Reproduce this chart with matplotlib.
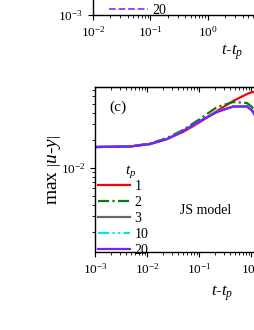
import numpy as np
import matplotlib
matplotlib.use("Agg")
import matplotlib.pyplot as plt

plt.rcParams['font.family'] = ['Liberation Serif', 'DejaVu Serif']
plt.rcParams['mathtext.fontset'] = 'custom'
plt.rcParams['mathtext.rm'] = 'Liberation Serif'
plt.rcParams['mathtext.it'] = 'Liberation Serif:italic'
plt.rcParams['mathtext.bf'] = 'Liberation Serif:bold'

# ---- data (panel c) ----
log_t = [-3.0, -2.327, -1.942, -1.615, -1.308, -0.981, -0.654, -0.346, -0.077, 0.019, 0.115, 0.269]
t = [10 ** v for v in log_t]
tp_labels = ['1', '2', '3', '10', '20']
y_tp1 = [0.0169, 0.01714, 0.01823, 0.02065, 0.0246, 0.0316, 0.0417, 0.0535, 0.0637, 0.0670, 0.0662, 0.0607]
y_tp2 = [0.0169, 0.01714, 0.01846, 0.0212, 0.0259, 0.0341, 0.0460, 0.0521, 0.0509, 0.0460, 0.0386, 0.0316]
y_tp3 = [0.0169, 0.01714, 0.01823, 0.02065, 0.0252, 0.0324, 0.0407, 0.0465, 0.0465, 0.0420, 0.0340, 0.0265]
y_tp10 = [0.0169, 0.01714, 0.01823, 0.02065, 0.0252, 0.0324, 0.0407, 0.0470, 0.0472, 0.0427, 0.0358, 0.0286]
y_tp20 = [0.0169, 0.01714, 0.01823, 0.02065, 0.0252, 0.0324, 0.0407, 0.0467, 0.0468, 0.0423, 0.0349, 0.0276]
series = [y_tp1, y_tp2, y_tp3, y_tp10, y_tp20]

colors = ['#ff0000', '#0a7a0a', '#666666', '#00e5ee', '#7a1fff']
styles = ['-', (0, (5, 1.5, 1, 1.5)), '-', (0, (5, 1.5, 1, 1.5, 1, 1.5)), '-']

fig = plt.figure(figsize=(2.55, 3.3), dpi=100)

def style_axes(ax):
    ax.set_xscale('log')
    ax.set_yscale('log')
    ax.tick_params(which='both', direction='out', labelsize=9.5, top=False, right=False)
    ax.tick_params(which='major', length=3.5, width=0.8)
    ax.tick_params(which='minor', length=2, width=0.6)
    for s in ax.spines.values():
        s.set_linewidth(1.0)

# ---- top panel (only bottom visible) ----
dec1 = 57.5
w1 = np.log10(9 / 1e-2) * dec1
ax1 = fig.add_axes([93 / 255, 1 - 15 / 330, w1 / 255, 20 / 330])
style_axes(ax1)
ax1.set_xlim(1e-2, 9)
ax1.set_ylim(1e-3, 1.3e-3)
ax1.yaxis.set_minor_locator(plt.NullLocator())
ax1.spines['top'].set_visible(False)
ax1.spines['right'].set_visible(False)
ax1.plot([], [], color='#9933ff', ls='--', lw=1.3, label='20')
ax1.legend(loc='center left', frameon=False, fontsize=10, handlelength=2.8,
           handletextpad=0.3, borderaxespad=0.0, borderpad=0.0,
           bbox_to_anchor=(109 / 255, 1 - 10 / 330), bbox_transform=fig.transFigure)
ax1.set_xlabel(r'$t$-$t_p$', fontsize=12)
ax1.xaxis.set_label_coords((232 - 93) / w1, -27 / 20)

# ---- panel (c) ----
ax = fig.add_axes([95 / 255, 1 - 252 / 330, 208 / 255, 165 / 330])
style_axes(ax)
for y, c, ls, lab in zip(series, colors, styles, tp_labels):
    ax.plot(t, y, color=c, ls=ls, lw=1.6, label=lab)
ax.set_xlim(1e-3, 1e1)
ax.set_ylim(1.22e-3, 7.6e-2)
sec = ax.secondary_xaxis('top')
sec.tick_params(which='both', direction='in', labeltop=False)
sec.tick_params(which='major', length=3.5, width=0.8)
sec.tick_params(which='minor', length=2, width=0.6)
ax.text(0.07, 0.88, '(c)', transform=ax.transAxes, fontsize=11, va='center', ha='left')
ax.text(85 / 208, 1 - (211 - 87) / 165, 'JS model', transform=ax.transAxes, fontsize=10,
        va='center', ha='left')
ax.text((131 - 95) / 208, 1 - (172 - 87) / 165, r'$t_p$', transform=ax.transAxes,
        fontsize=11, va='center', ha='center')
leg = ax.legend(loc='lower left', frameon=False, fontsize=10,
                handlelength=2.3, handletextpad=0.3, labelspacing=0.22,
                borderaxespad=0.0, borderpad=0.25, bbox_to_anchor=(0.0, -0.05))
ax.set_ylabel(r'max $\left|u\text{-}y\right|$', fontsize=14)
ax.yaxis.set_label_coords(-(95 - 63) / 208, 1 - (170 - 87) / 165)
ax.set_xlabel(r'$t$-$t_p$', fontsize=12)
ax.xaxis.set_label_coords((222 - 95) / 208, -(283 - 252) / 165)

fig.savefig('out.png', dpi=100)
